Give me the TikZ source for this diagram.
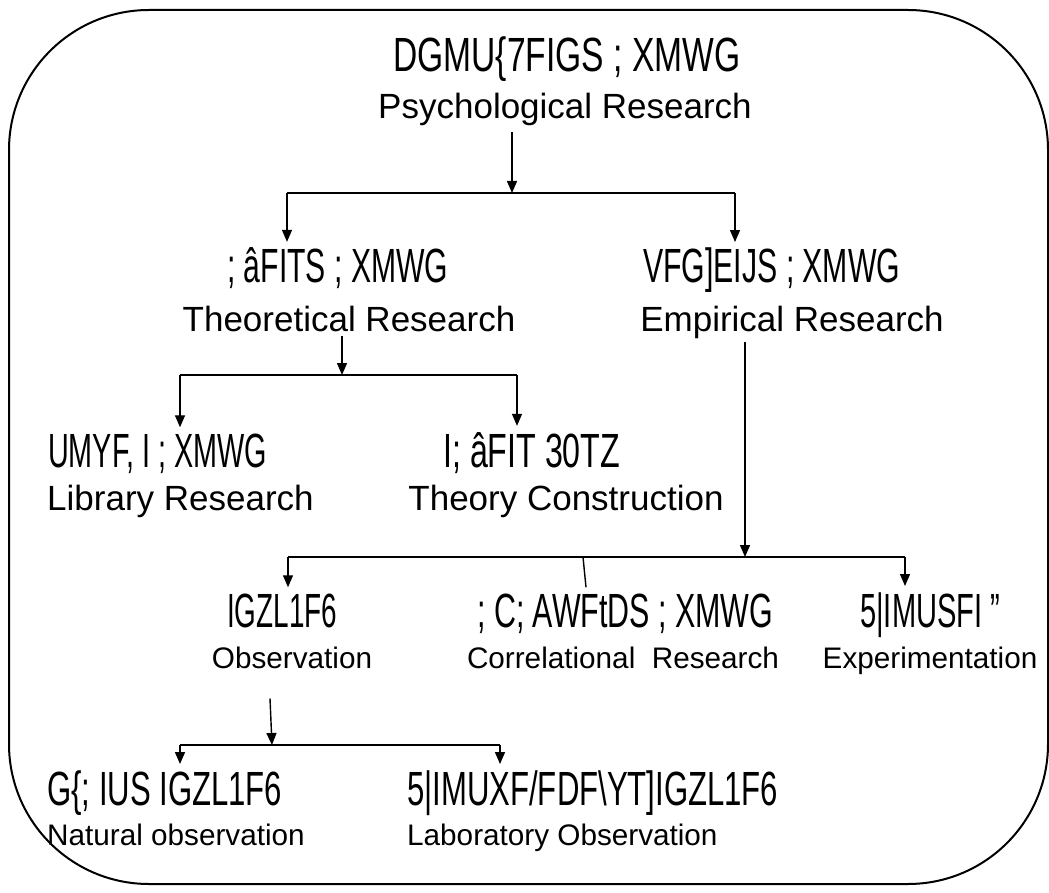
\documentclass[tikz,border=0pt]{standalone}
\usepackage{fontspec}
\setmainfont{Liberation Sans}
\usetikzlibrary{arrows.meta}
\begin{document}
\begin{tikzpicture}[x=1pt,y=-1pt,
  en/.style={font=\fontsize{35}{40}\selectfont, inner sep=0pt, anchor=base},
  ens/.style={font=\fontsize{29.7}{34}\selectfont, inner sep=0pt, anchor=base},
  hi/.style={font=\fontsize{48}{52}\selectfont, inner sep=0pt, anchor=base west},
  conn/.style={line width=1.4pt},
  arr/.style={conn, -{Triangle[length=12pt,width=10pt]}},
  frame/.style={line width=2pt, rounded corners=140pt}]
\useasboundingbox (0,0) rectangle (1049,893);
\draw[frame] (9,10) rectangle (1048,884);

% level 1
\node[hi] (h1) at (393,72) {\resizebox{347pt}{\height}{DGMU\{7FIGS ; XMWG}};
\node[en] (e1) at (565,119) {Psychological Research};
% level 2
\node[hi] (h2) at (227,283) {\resizebox{221pt}{\height}{; âFITS ; XMWG}};
\node[en] (e2) at (349,331) {Theoretical Research};
\node[hi] (h3) at (643,283) {\resizebox{257pt}{\height}{VFG]EIJS ; XMWG}};
\node[en] (e3) at (792,331) {Empirical Research};
% level 3
\node[hi] (h4) at (48,467) {\resizebox{219pt}{\height}{UMYF, I ; XMWG}};
\node[en, anchor=base west] (e4) at (47,510) {Library Research};
\node[hi] (h5) at (443,467) {\resizebox{177pt}{\height}{I; âFIT 30TZ}};
\node[en] (e5) at (566,510) {Theory Construction};
% level 4
\node[hi] (h6) at (227,627) {\resizebox{110pt}{\height}{IGZL1F6}};
\node[ens] (e6) at (292,668) {Observation};
\node[hi] (h7) at (477,627) {\resizebox{296pt}{\height}{; C; AWFtDS ; XMWG}};
\node[ens] (e7) at (623,668) {Correlational\ \ Research};
\node[hi] (h8) at (860,627) {\resizebox{140pt}{\height}{5|IMUSFI "}};
\node[ens] (e8) at (930,668) {Experimentation};
% level 5
\node[hi] (h9) at (47,805) {\resizebox{235pt}{\height}{G\{; IUS IGZL1F6}};
\node[ens, anchor=base west] (e9) at (47,845) {Natural observation};
\node[hi] (h10) at (407,805) {\resizebox{371pt}{\height}{5|IMUXF/FDF\textbackslash YT]IGZL1F6}};
\node[ens, anchor=base west] (e10) at (407,845) {Laboratory Observation};

% connectors level 1 -> 2
\coordinate (j1) at (512,193);
\coordinate (j1l) at (287,193);
\coordinate (j1r) at (735,193);
\draw[arr] ([yshift=-6pt]e1.south -| j1) -- (j1);
\draw[conn] (j1l) -- (j1r);
\draw[arr] (j1l) -- ([yshift=6pt]h2.north -| j1l);
\draw[arr] (j1r) -- ([yshift=6pt]h3.north -| j1r);

% theoretical -> library / theory construction
\coordinate (j2) at (342,375);
\coordinate (j2l) at (180,375);
\coordinate (j2r) at (517,375);
\draw[arr] ([yshift=-4pt]e2.south -| j2) -- (j2);
\draw[conn] (j2l) -- (j2r);
\draw[arr] (j2l) -- ([yshift=6pt]h4.north -| j2l);
\draw[arr] (j2r) -- ([yshift=6pt]h5.north -| j2r);

% empirical -> three methods
\coordinate (j3) at (745,557);
\coordinate (j3l) at (288,557);
\coordinate (j3m) at (583,557);
\coordinate (j3r) at (905,557);
\draw[arr] ([yshift=-4pt]e3.south -| j3) -- (j3);
\draw[conn] (j3l) -- (j3r);
\draw[arr] (j3l) -- ([yshift=6pt]h6.north -| j3l);
\draw[conn] (j3m) -- ([xshift=3pt,yshift=6pt]h7.north -| j3m);
\draw[arr] (j3r) -- ([yshift=6pt]h8.north -| j3r);

% observation -> natural / laboratory
\coordinate (j4) at (272,745);
\coordinate (j4l) at (180,745);
\coordinate (j4r) at (500,745);
\draw[arr] ([xshift=-2pt,yshift=-30pt]e6.south -| j4) -- (j4);
\draw[conn] (j4l) -- (j4r);
\draw[arr] (j4l) -- ([yshift=6pt]h9.north -| j4l);
\draw[arr] (j4r) -- ([yshift=6pt]h10.north -| j4r);
\end{tikzpicture}
\end{document}
